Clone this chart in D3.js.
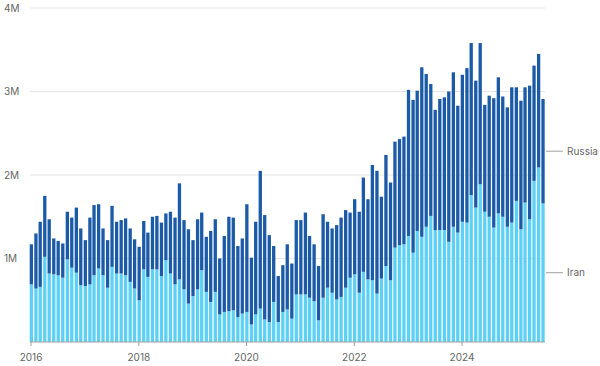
<!DOCTYPE html>
<html>
<head>
<meta charset="utf-8">
<script src="https://cdn.jsdelivr.net/npm/d3@7"></script>
<style>
  body { margin: 0; background: #fff; }
  svg text { font-family: Inter, "Noto Sans", sans-serif; font-size: 10px; fill: #666; }
</style>
</head>
<body>
<div id="chart"></div>
<script>
// monthly values, Jan 2016 .. Jul 2025, millions of barrels per month
const startMonth = new Date(Date.UTC(2016, 0, 1));

const iran = [
  0.69, 0.64, 0.66, 1.02, 0.82, 0.81, 0.80, 0.77, 0.99, 0.89, 0.83, 0.68,
  0.67, 0.69, 0.80, 0.88, 0.80, 0.65, 0.90, 0.82, 0.82, 0.80, 0.72, 0.64,
  0.50, 0.87, 0.78, 0.87, 0.87, 0.79, 0.98, 0.82, 0.69, 0.75, 0.63, 0.46,
  0.55, 0.63, 0.86, 0.60, 0.48, 0.60, 0.33, 0.36, 0.37, 0.38, 0.30, 0.34,
  0.36, 0.21, 0.33, 0.40, 0.27, 0.24, 0.48, 0.24, 0.36, 0.39, 0.28, 0.57,
  0.57, 0.57, 0.53, 0.49, 0.26, 0.53, 0.65, 0.59, 0.51, 0.54, 0.65, 0.77,
  0.81, 0.59, 0.84, 0.75, 0.74, 0.58, 0.76, 0.91, 0.74, 1.13, 1.16, 1.17,
  1.27, 1.07, 1.33, 1.26, 1.38, 1.51, 1.34, 1.34, 1.34, 1.20, 1.38, 1.31,
  1.44, 1.43, 1.76, 1.61, 1.89, 1.56, 1.50, 1.37, 1.54, 1.50, 1.38, 1.43,
  1.69, 1.35, 1.67, 1.47, 1.93, 2.09, 1.66
];

const russia = [
  0.48, 0.66, 0.78, 0.73, 0.65, 0.43, 0.41, 0.41, 0.57, 0.60, 0.78, 0.68,
  0.55, 0.80, 0.84, 0.77, 0.56, 0.57, 0.73, 0.62, 0.64, 0.68, 0.64, 0.59,
  0.64, 0.58, 0.53, 0.63, 0.64, 0.64, 0.56, 0.74, 0.80, 1.15, 0.83, 0.89,
  0.67, 0.84, 0.69, 0.66, 0.85, 0.87, 0.67, 0.91, 1.13, 1.11, 0.85, 0.90,
  1.29, 0.80, 1.11, 1.65, 1.25, 1.04, 0.67, 0.55, 0.56, 0.78, 0.66, 0.89,
  0.89, 0.98, 0.74, 0.68, 0.65, 1.00, 0.79, 0.77, 0.89, 0.95, 0.93, 0.78,
  0.90, 0.97, 1.13, 0.96, 1.38, 1.47, 0.98, 1.33, 1.17, 1.27, 1.27, 1.29,
  1.75, 1.83, 1.68, 2.03, 1.83, 1.58, 1.44, 1.57, 1.59, 1.80, 1.85, 1.52,
  1.76, 1.85, 1.82, 1.52, 1.69, 1.28, 1.45, 1.55, 1.63, 1.44, 1.43, 1.62,
  1.36, 1.54, 1.38, 1.60, 1.38, 1.36, 1.25
];

const yTicks = [1, 2, 3, 4];
const yearTicks = [2016, 2018, 2020, 2022, 2024];
const seriesNames = ["Iran", "Russia"];
const colors = { Iran: "#5cd1f5", Russia: "#1b5aa6" };

const width = 600, height = 366;
const margin = { top: 8, right: 56, bottom: 24, left: 30 };

const rows = iran.map((v, i) => ({
  date: d3.utcMonth.offset(startMonth, i),
  Iran: v,
  Russia: russia[i]
}));

const x = d3.scaleUtc()
  .domain([startMonth, new Date(Date.UTC(2024, 0, 1))])
  .range([31, 462]);

const y = d3.scaleLinear()
  .domain([0, 4])
  .range([342, 8]);

const svg = d3.select("#chart").append("svg")
  .attr("width", width)
  .attr("height", height);

const plotRight = 545;

// gridlines
svg.append("g").attr("class", "grid")
  .selectAll("line")
  .data(yTicks)
  .join("line")
  .attr("x1", margin.left)
  .attr("x2", plotRight)
  .attr("y1", d => y(d))
  .attr("y2", d => y(d))
  .attr("stroke", "#e6e6e6")
  .attr("stroke-width", 1);

svg.append("g").attr("class", "y-axis")
  .selectAll("text")
  .data(yTicks)
  .join("text")
  .attr("x", 4)
  .attr("y", d => y(d))
  .attr("dy", "0.35em")
  .text(d => d + "M");

// stacked bars
const stack = d3.stack().keys(seriesNames);
const layers = stack(rows);

svg.append("g").attr("class", "bars")
  .selectAll("g")
  .data(layers)
  .join("g")
  .attr("fill", d => colors[d.key])
  .selectAll("rect")
  .data(d => d)
  .join("rect")
  .attr("x", d => x(d.data.date) - 1.3)
  .attr("width", 3.3)
  .attr("y", d => y(d[1]))
  .attr("height", d => y(d[0]) - y(d[1]));

// x axis
const xAxis = svg.append("g").attr("class", "x-axis")
  .attr("transform", "translate(0," + y(0) + ")");

xAxis.append("line")
  .attr("x1", margin.left)
  .attr("x2", plotRight)
  .attr("stroke", "#a0a0a0");

const yearTick = xAxis.selectAll(".tick")
  .data(yearTicks)
  .join("g")
  .attr("class", "tick")
  .attr("transform", d => "translate(" + x(new Date(Date.UTC(d, 0, 1))) + ",0)");

yearTick.append("line").attr("y2", 4).attr("stroke", "#a0a0a0");
yearTick.append("text")
  .attr("y", 15)
  .attr("dy", "0.35em")
  .attr("text-anchor", "middle")
  .text(d => d);

// series labels at the last bar
const last = layers.map(l => ({ key: l.key, v: l[l.length - 1] }));
const labels = svg.append("g").attr("class", "labels")
  .selectAll("g")
  .data(last)
  .join("g")
  .attr("transform", d => "translate(0," + y((d.v[0] + d.v[1]) / 2) + ")");

labels.append("line")
  .attr("x1", plotRight + 1)
  .attr("x2", 563)
  .attr("stroke", "#a0a0a0");

labels.append("text")
  .attr("x", 567)
  .attr("dy", "0.35em")
  .text(d => d.key);
</script>
</body>
</html>
